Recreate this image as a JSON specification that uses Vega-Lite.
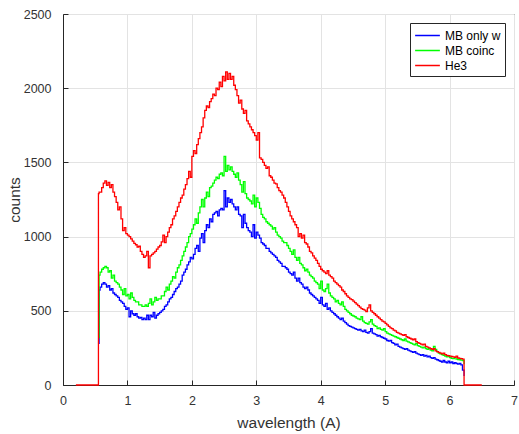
{
"$schema": "https://vega.github.io/schema/vega-lite/v6.json",
"width": 451, "height": 371,
"autosize": {"type": "none"},
"padding": {"left": 63, "top": 14, "right": 5, "bottom": 49},
"background": "white",
"config": {
 "font": "Liberation Sans",
 "view": {"stroke": "#262626", "strokeWidth": 1},
 "axis": {"labelFontSize": 12.5, "titleFontSize": 15.5, "labelColor": "#333333", "titleColor": "#333333", "titleFontWeight": "normal", "domainColor": "#262626", "tickColor": "#262626", "gridColor": "#e3e3e3", "gridWidth": 1, "tickSize": -5}
},
"data": {"values": [
{"x":0.55,"b":280,"g":320,"r":1290},
{"x":0.56,"b":640,"g":740,"r":1300},
{"x":0.575,"b":660,"g":760,"r":1300},
{"x":0.6,"b":680,"g":780,"r":1330},
{"x":0.625,"b":690,"g":790,"r":1360},
{"x":0.65,"b":680,"g":800,"r":1375},
{"x":0.675,"b":660,"g":790,"r":1345},
{"x":0.7,"b":670,"g":760,"r":1365},
{"x":0.725,"b":640,"g":770,"r":1330},
{"x":0.75,"b":650,"g":720,"r":1350},
{"x":0.775,"b":620,"g":740,"r":1300},
{"x":0.8,"b":610,"g":700,"r":1270},
{"x":0.825,"b":600,"g":690,"r":1230},
{"x":0.85,"b":590,"g":680,"r":1180},
{"x":0.875,"b":570,"g":660,"r":1200},
{"x":0.9,"b":560,"g":640,"r":1120},
{"x":0.925,"b":550,"g":610,"r":1040},
{"x":0.95,"b":530,"g":650,"r":1060},
{"x":0.975,"b":510,"g":600,"r":1020},
{"x":1.0,"b":520,"g":610,"r":1010},
{"x":1.025,"b":460,"g":580,"r":1000},
{"x":1.05,"b":500,"g":620,"r":985},
{"x":1.075,"b":480,"g":590,"r":970},
{"x":1.1,"b":470,"g":570,"r":955},
{"x":1.125,"b":480,"g":560,"r":945},
{"x":1.15,"b":460,"g":560,"r":930},
{"x":1.175,"b":450,"g":540,"r":935},
{"x":1.2,"b":455,"g":540,"r":900},
{"x":1.225,"b":440,"g":530,"r":880},
{"x":1.25,"b":450,"g":530,"r":860},
{"x":1.275,"b":440,"g":540,"r":870},
{"x":1.3,"b":470,"g":530,"r":900},
{"x":1.325,"b":440,"g":550,"r":790},
{"x":1.35,"b":470,"g":580,"r":870},
{"x":1.375,"b":460,"g":540,"r":880},
{"x":1.4,"b":490,"g":560,"r":890},
{"x":1.425,"b":450,"g":590,"r":900},
{"x":1.45,"b":470,"g":570,"r":915},
{"x":1.475,"b":480,"g":580,"r":930},
{"x":1.5,"b":490,"g":580,"r":940},
{"x":1.525,"b":500,"g":600,"r":965},
{"x":1.55,"b":510,"g":600,"r":1010},
{"x":1.575,"b":530,"g":630,"r":960},
{"x":1.6,"b":540,"g":660,"r":1000},
{"x":1.625,"b":560,"g":640,"r":1030},
{"x":1.65,"b":580,"g":680,"r":1060},
{"x":1.675,"b":590,"g":700,"r":1080},
{"x":1.7,"b":610,"g":730,"r":1120},
{"x":1.725,"b":630,"g":720,"r":1140},
{"x":1.75,"b":650,"g":760,"r":1170},
{"x":1.775,"b":660,"g":790,"r":1200},
{"x":1.8,"b":680,"g":810,"r":1230},
{"x":1.825,"b":700,"g":840,"r":1260},
{"x":1.85,"b":740,"g":870,"r":1280},
{"x":1.875,"b":760,"g":900,"r":1320},
{"x":1.9,"b":780,"g":930,"r":1350},
{"x":1.925,"b":810,"g":960,"r":1390},
{"x":1.95,"b":830,"g":1000,"r":1440},
{"x":1.975,"b":860,"g":1020,"r":1400},
{"x":2.0,"b":850,"g":1050,"r":1540},
{"x":2.025,"b":880,"g":1080,"r":1580},
{"x":2.05,"b":920,"g":1120,"r":1560},
{"x":2.075,"b":940,"g":1090,"r":1620},
{"x":2.1,"b":900,"g":1160,"r":1660},
{"x":2.125,"b":990,"g":1200,"r":1700},
{"x":2.15,"b":1020,"g":1250,"r":1740},
{"x":2.175,"b":960,"g":1200,"r":1800},
{"x":2.2,"b":1040,"g":1260,"r":1850},
{"x":2.225,"b":1080,"g":1300,"r":1880},
{"x":2.25,"b":1060,"g":1270,"r":1870},
{"x":2.275,"b":1120,"g":1330,"r":1910},
{"x":2.3,"b":1100,"g":1340,"r":1930},
{"x":2.325,"b":1150,"g":1360,"r":1960},
{"x":2.35,"b":1160,"g":1380,"r":1950},
{"x":2.375,"b":1170,"g":1400,"r":2000},
{"x":2.4,"b":1140,"g":1390,"r":1990},
{"x":2.425,"b":1180,"g":1420,"r":2040},
{"x":2.45,"b":1190,"g":1430,"r":2010},
{"x":2.475,"b":1180,"g":1410,"r":2080},
{"x":2.5,"b":1310,"g":1540,"r":2050},
{"x":2.525,"b":1200,"g":1440,"r":2110},
{"x":2.55,"b":1260,"g":1480,"r":2060},
{"x":2.575,"b":1230,"g":1450,"r":2100},
{"x":2.6,"b":1250,"g":1470,"r":2060},
{"x":2.625,"b":1220,"g":1440,"r":2080},
{"x":2.65,"b":1200,"g":1420,"r":2020},
{"x":2.675,"b":1180,"g":1400,"r":1990},
{"x":2.7,"b":1200,"g":1430,"r":1950},
{"x":2.725,"b":1150,"g":1380,"r":1900},
{"x":2.75,"b":1140,"g":1350,"r":1920},
{"x":2.775,"b":1060,"g":1300,"r":1860},
{"x":2.8,"b":1150,"g":1370,"r":1830},
{"x":2.825,"b":1090,"g":1290,"r":1850},
{"x":2.85,"b":1060,"g":1260,"r":1780},
{"x":2.875,"b":1040,"g":1250,"r":1760},
{"x":2.9,"b":1030,"g":1240,"r":1740},
{"x":2.925,"b":1000,"g":1220,"r":1720},
{"x":2.95,"b":1080,"g":1280,"r":1700},
{"x":2.975,"b":990,"g":1200,"r":1680},
{"x":3.0,"b":1030,"g":1260,"r":1650},
{"x":3.025,"b":1010,"g":1230,"r":1700},
{"x":3.05,"b":990,"g":1190,"r":1530},
{"x":3.075,"b":960,"g":1150,"r":1520},
{"x":3.1,"b":950,"g":1130,"r":1500},
{"x":3.125,"b":940,"g":1120,"r":1480},
{"x":3.15,"b":920,"g":1100,"r":1460},
{"x":3.175,"b":920,"g":1090,"r":1470},
{"x":3.2,"b":900,"g":1080,"r":1410},
{"x":3.225,"b":890,"g":1070,"r":1400},
{"x":3.25,"b":880,"g":1050,"r":1380},
{"x":3.275,"b":870,"g":1060,"r":1360},
{"x":3.3,"b":860,"g":1030,"r":1355},
{"x":3.325,"b":840,"g":1010,"r":1330},
{"x":3.35,"b":830,"g":1000,"r":1310},
{"x":3.375,"b":820,"g":990,"r":1300},
{"x":3.4,"b":800,"g":970,"r":1280},
{"x":3.425,"b":800,"g":960,"r":1260},
{"x":3.45,"b":790,"g":960,"r":1230},
{"x":3.475,"b":780,"g":940,"r":1200},
{"x":3.5,"b":760,"g":920,"r":1170},
{"x":3.525,"b":750,"g":900,"r":1140},
{"x":3.55,"b":740,"g":880,"r":1120},
{"x":3.575,"b":760,"g":910,"r":1100},
{"x":3.6,"b":720,"g":860,"r":1080},
{"x":3.625,"b":700,"g":840,"r":1060},
{"x":3.65,"b":720,"g":860,"r":1000},
{"x":3.675,"b":690,"g":820,"r":1020},
{"x":3.7,"b":680,"g":810,"r":990},
{"x":3.725,"b":660,"g":790,"r":1010},
{"x":3.75,"b":650,"g":770,"r":960},
{"x":3.775,"b":660,"g":780,"r":950},
{"x":3.8,"b":640,"g":760,"r":930},
{"x":3.825,"b":620,"g":740,"r":900},
{"x":3.85,"b":610,"g":730,"r":890},
{"x":3.875,"b":600,"g":720,"r":870},
{"x":3.9,"b":590,"g":700,"r":855},
{"x":3.925,"b":580,"g":690,"r":840},
{"x":3.95,"b":570,"g":680,"r":820},
{"x":3.975,"b":550,"g":650,"r":800},
{"x":4.0,"b":590,"g":700,"r":780},
{"x":4.025,"b":540,"g":640,"r":770},
{"x":4.05,"b":530,"g":630,"r":760},
{"x":4.075,"b":550,"g":650,"r":750},
{"x":4.1,"b":510,"g":680,"r":770},
{"x":4.125,"b":520,"g":620,"r":740},
{"x":4.15,"b":500,"g":600,"r":730},
{"x":4.175,"b":490,"g":590,"r":720},
{"x":4.2,"b":480,"g":580,"r":700},
{"x":4.225,"b":470,"g":560,"r":690},
{"x":4.25,"b":460,"g":570,"r":680},
{"x":4.275,"b":450,"g":550,"r":670},
{"x":4.3,"b":440,"g":540,"r":660},
{"x":4.325,"b":450,"g":560,"r":640},
{"x":4.35,"b":430,"g":530,"r":630},
{"x":4.375,"b":420,"g":510,"r":615},
{"x":4.4,"b":410,"g":500,"r":600},
{"x":4.425,"b":400,"g":490,"r":590},
{"x":4.45,"b":395,"g":480,"r":580},
{"x":4.475,"b":390,"g":470,"r":575},
{"x":4.5,"b":385,"g":465,"r":565},
{"x":4.525,"b":380,"g":460,"r":555},
{"x":4.55,"b":375,"g":450,"r":545},
{"x":4.575,"b":370,"g":445,"r":535},
{"x":4.6,"b":375,"g":440,"r":525},
{"x":4.625,"b":365,"g":460,"r":515},
{"x":4.65,"b":360,"g":430,"r":510},
{"x":4.675,"b":370,"g":420,"r":505},
{"x":4.7,"b":355,"g":415,"r":495},
{"x":4.725,"b":350,"g":410,"r":520},
{"x":4.75,"b":360,"g":425,"r":540},
{"x":4.775,"b":380,"g":440,"r":500},
{"x":4.8,"b":350,"g":410,"r":490},
{"x":4.825,"b":345,"g":400,"r":480},
{"x":4.85,"b":340,"g":395,"r":470},
{"x":4.875,"b":330,"g":380,"r":460},
{"x":4.9,"b":335,"g":385,"r":450},
{"x":4.925,"b":325,"g":375,"r":440},
{"x":4.95,"b":320,"g":370,"r":430},
{"x":4.975,"b":315,"g":380,"r":425},
{"x":5.0,"b":310,"g":360,"r":415},
{"x":5.025,"b":300,"g":350,"r":405},
{"x":5.05,"b":295,"g":345,"r":395},
{"x":5.075,"b":300,"g":340,"r":385},
{"x":5.1,"b":285,"g":335,"r":380},
{"x":5.125,"b":280,"g":330,"r":370},
{"x":5.15,"b":270,"g":325,"r":365},
{"x":5.175,"b":275,"g":320,"r":355},
{"x":5.2,"b":260,"g":315,"r":350},
{"x":5.225,"b":255,"g":310,"r":345},
{"x":5.25,"b":250,"g":305,"r":340},
{"x":5.275,"b":245,"g":300,"r":335},
{"x":5.3,"b":240,"g":310,"r":340},
{"x":5.325,"b":245,"g":295,"r":325},
{"x":5.35,"b":235,"g":290,"r":320},
{"x":5.375,"b":230,"g":285,"r":315},
{"x":5.4,"b":225,"g":280,"r":310},
{"x":5.425,"b":220,"g":275,"r":305},
{"x":5.45,"b":225,"g":270,"r":310},
{"x":5.475,"b":215,"g":280,"r":292},
{"x":5.5,"b":210,"g":265,"r":285},
{"x":5.525,"b":205,"g":260,"r":280},
{"x":5.55,"b":200,"g":255,"r":275},
{"x":5.575,"b":205,"g":250,"r":270},
{"x":5.6,"b":195,"g":255,"r":275},
{"x":5.625,"b":200,"g":245,"r":260},
{"x":5.65,"b":190,"g":240,"r":255},
{"x":5.675,"b":195,"g":245,"r":250},
{"x":5.7,"b":185,"g":235,"r":245},
{"x":5.725,"b":180,"g":230,"r":240},
{"x":5.75,"b":185,"g":260,"r":245},
{"x":5.775,"b":175,"g":240,"r":230},
{"x":5.8,"b":170,"g":225,"r":225},
{"x":5.825,"b":165,"g":215,"r":220},
{"x":5.85,"b":160,"g":210,"r":215},
{"x":5.875,"b":155,"g":205,"r":210},
{"x":5.9,"b":165,"g":200,"r":215},
{"x":5.925,"b":155,"g":195,"r":205},
{"x":5.95,"b":150,"g":190,"r":200},
{"x":5.975,"b":160,"g":195,"r":197},
{"x":6.0,"b":150,"g":185,"r":195},
{"x":6.025,"b":155,"g":180,"r":192},
{"x":6.05,"b":145,"g":178,"r":190},
{"x":6.075,"b":150,"g":185,"r":187},
{"x":6.1,"b":145,"g":175,"r":195},
{"x":6.125,"b":140,"g":172,"r":182},
{"x":6.15,"b":145,"g":170,"r":180},
{"x":6.175,"b":135,"g":168,"r":178},
{"x":6.2,"b":100,"g":165,"r":175},
{"x":6.225,"b":60,"g":140,"r":0},
{"x":6.5,"b":null,"g":null,"r":0},
{"x":0.2,"b":null,"g":null,"r":0}
]},
"transform": [
 {"fold": ["b", "g", "r"], "as": ["s", "v"]},
 {"filter": "isValid(datum.v)"}
],
"mark": {"type": "line", "interpolate": "step-after", "strokeWidth": 1.3},
"encoding": {
 "x": {"field": "x", "type": "quantitative", "scale": {"domain": [0, 7], "nice": false, "zero": false},
   "axis": {"values": [0, 1, 2, 3, 4, 5, 6, 7], "title": "wavelength (A)", "labelPadding": 14, "titlePadding": 9, "labelFlush": false}},
 "y": {"field": "v", "type": "quantitative", "scale": {"domain": [0, 2500], "nice": false},
   "axis": {"values": [0, 500, 1000, 1500, 2000, 2500], "format": "d", "title": "counts", "labelPadding": 17, "titlePadding": 1}},
 "color": {"field": "s", "type": "nominal",
   "scale": {"domain": ["b", "g", "r"], "range": ["#0000ff", "#00ff00", "#ff0000"]},
   "legend": {"title": null, "orient": "top-right", "offset": 9, "labelExpr": "datum.label == 'b' ? 'MB only w' : datum.label == 'g' ? 'MB coinc' : 'He3'",
     "symbolType": "M-1.65,0H1.65", "symbolSize": 225, "symbolStrokeWidth": 1.5, "symbolOffset": 5, "labelFontSize": 12, "labelColor": "#000000",
     "strokeColor": "#262626", "fillColor": "white", "padding": 4, "rowPadding": 0, "labelOffset": 9}}
}
}
